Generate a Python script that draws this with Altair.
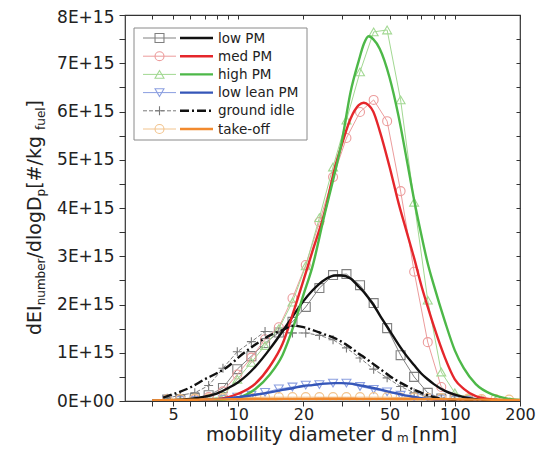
import altair as alt
import pandas as pd

# ---------------- data (values in units of 1E+15 #/kg_fuel) ----------------
d_meas = [4.7, 5.4, 6.3, 7.3, 8.5, 9.9, 11.5, 13.3, 15.4, 17.8, 20.5, 23.7, 27.4,
          31.6, 36.5, 42.2, 48.7, 56.2, 64.9, 75.0, 86.6, 100, 115, 133, 154, 178]
low_pm_meas = [0.03, 0.04, 0.06, 0.12, 0.27, 0.66, 0.93, 1.20, 1.42, 1.64, 1.95, 2.34, 2.61,
               2.63, 2.40, 2.03, 1.51, 0.95, 0.50, 0.17, 0.05, 0.02, 0.01, None, None, None]
med_pm_meas = [0.03, 0.03, 0.04, 0.08, 0.20, 0.55, 0.90, 1.28, 1.53, 2.13, 2.82, 3.71, 4.64,
               5.45, 5.99, 6.24, 5.80, 4.35, 2.68, 1.22, 0.29, 0.06, 0.02, 0.01, None, None]
high_pm_meas = [0.01, 0.01, 0.02, 0.04, 0.10, 0.45, 0.80, 1.15, 1.50, 2.05, 2.80, 3.80, 4.85,
                5.82, 6.82, 7.65, 7.69, 6.24, 4.12, 2.09, 0.60, 0.17, 0.06, 0.02, 0.01, None]
low_lean_meas = [0.005, 0.01, 0.01, 0.02, 0.04, 0.08, 0.12, 0.18, 0.25, 0.29, 0.33, 0.34, 0.37,
                 0.37, 0.30, 0.24, 0.19, 0.12, 0.08, 0.05, 0.03, 0.02, 0.01, None, None, None]
ground_idle_meas = [0.06, 0.12, 0.17, 0.32, 0.68, 1.02, 1.23, 1.44, 1.43, 1.41, 1.41, 1.36, 1.27,
                    1.10, 0.89, 0.66, 0.48, 0.30, 0.17, 0.09, 0.04, 0.02, None, None, None, None]
take_off_meas = [0.03, 0.04, 0.05, 0.05, 0.06, 0.07, 0.07, 0.08, 0.08, 0.08, 0.08, 0.08, 0.08,
                 0.08, 0.08, 0.08, 0.08, 0.07, 0.07, 0.06, 0.06, 0.05, 0.05, 0.04, 0.04, 0.03]

d_fit = [4, 4.5, 5, 6, 7, 8, 9, 10, 12, 14, 16, 18, 20, 22, 25, 28, 30, 33, 36, 38,
         40, 42, 45, 50, 55, 60, 65, 70, 75, 80, 90, 100, 110, 125, 150, 175, 200]
low_pm_fit = [0.004, 0.008, 0.015, 0.042, 0.09, 0.16, 0.27, 0.39, 0.71, 1.08, 1.44, 1.78, 2.07,
              2.29, 2.51, 2.60, 2.60, 2.54, 2.37, 2.26, 2.13, 2.00, 1.78, 1.46, 1.17, 0.93, 0.74,
              0.57, 0.45, 0.35, 0.21, 0.13, 0.08, 0.04, 0.013, 0.005, 0.001]
med_pm_fit = [0, 0, 0.005, 0.01, 0.02, 0.04, 0.08, 0.15, 0.36, 0.72, 1.18, 1.85, 2.5, 3.1, 3.9,
              4.85, 5.3, 5.85, 6.13, 6.18, 6.13, 6.0, 5.6, 4.85, 4.1, 3.5, 2.95, 2.4, 1.95, 1.55,
              0.9, 0.45, 0.25, 0.1, 0.03, 0.01, 0.005]
high_pm_fit = [0, 0, 0, 0.005, 0.01, 0.02, 0.04, 0.07, 0.25, 0.55, 0.95, 1.55, 2.2, 2.78, 3.85,
               4.75, 5.35, 6.4, 7.05, 7.4, 7.56, 7.5, 7.3, 6.7, 5.9, 5.0, 4.15, 3.45, 2.85, 2.4,
               1.65, 1.05, 0.68, 0.35, 0.13, 0.05, 0.02]
low_lean_fit = [0, 0.002, 0.004, 0.01, 0.02, 0.035, 0.055, 0.08, 0.13, 0.18, 0.23, 0.27, 0.31,
                0.33, 0.36, 0.37, 0.37, 0.36, 0.33, 0.31, 0.29, 0.27, 0.24, 0.19, 0.15, 0.11,
                0.085, 0.06, 0.045, 0.03, 0.016, 0.008, 0.004, 0.002, 0, 0, 0]
ground_idle_fit = [None, 0.07, 0.14, 0.28, 0.45, 0.58, 0.72, 0.9, 1.17, 1.36, 1.47, 1.56, 1.53,
                   1.47, 1.38, 1.30, 1.23, 1.11, 0.98, 0.91, 0.84, 0.77, 0.67, 0.52, 0.40, 0.31,
                   0.23, 0.17, 0.12, 0.08, 0.04, 0.02, 0.01, 0.005, 0, 0, 0]
take_off_fit = [0.01, 0.015, 0.02, 0.025, 0.03, 0.033, 0.035, 0.037, 0.04, 0.042, 0.043, 0.044,
                0.045, 0.045, 0.046, 0.046, 0.046, 0.046, 0.045, 0.045, 0.045, 0.044, 0.044,
                0.043, 0.042, 0.041, 0.04, 0.039, 0.038, 0.037, 0.035, 0.033, 0.031, 0.029,
                0.026, 0.023, 0.02]

series_names = ["low PM", "med PM", "high PM", "low lean PM", "ground idle", "take-off"]
x_tick_values = [4, 5, 6, 7, 8, 9, 10, 20, 30, 40, 50, 60, 70, 80, 90, 100, 200]
x_label_values = [5, 10, 20, 50, 100, 200]
y_tick_values = [i * 0.5 for i in range(17)]

# ---------------- styles ----------------
FONT = "DejaVu Sans"
CROSS = "M-1,0L1,0M0,-1L0,1"
styles = {
    "low PM":      dict(mc="#808080", shape="square", fc="#111111", fdash=None, ddash=None),
    "med PM":      dict(mc="#ec9c9c", shape="circle", fc="#e5262b", fdash=None, ddash=None),
    "high PM":     dict(mc="#a2d892", shape="triangle-up", fc="#4db848", fdash=None, ddash=None),
    "low lean PM": dict(mc="#8a9ee0", shape="triangle-down", fc="#3556b8", fdash=None, ddash=None),
    "ground idle": dict(mc="#7a7a7a", shape=CROSS, fc="#111111", fdash=[9, 3, 2, 3], ddash=[4, 2]),
    "take-off":    dict(mc="#f2c48e", shape="circle", fc="#f28a2e", fdash=None, ddash=None),
}
meas = dict(zip(series_names, [low_pm_meas, med_pm_meas, high_pm_meas, low_lean_meas,
                               ground_idle_meas, take_off_meas]))
fits = dict(zip(series_names, [low_pm_fit, med_pm_fit, high_pm_fit, low_lean_fit,
                               ground_idle_fit, take_off_fit]))

X_SCALE = alt.Scale(type="log", domain=[3, 200])
Y_SCALE = alt.Scale(domain=[0, 8])


def df_of(xs, ys):
    return pd.DataFrame({"d": xs, "v": ys}).dropna()


def xy(chart, xaxis=None, yaxis=None):
    return chart.encode(
        x=alt.X("d:Q", scale=X_SCALE, axis=xaxis),
        y=alt.Y("v:Q", scale=Y_SCALE, axis=yaxis),
    )


layers = []

# axes (invisible carrier layers)
axis_df = df_of(d_fit, low_pm_fit)
bottom_axis = alt.Axis(
    orient="bottom", values=x_tick_values, title=None, domain=False, grid=False,
    labelExpr="indexof(%s, datum.value) >= 0 ? format(datum.value, 'd') : ''" % x_label_values,
    tickSize=5, labelFlush=False, labelOverlap=False, labelPadding=0, labelFontSize=16,
)
left_axis = alt.Axis(
    orient="left", values=y_tick_values, title=None, domain=False, grid=False,
    labelExpr="datum.value % 1 == 0 ? (datum.value == 0 ? '0E+00' : format(datum.value, 'd') + 'E+15') : ''",
    tickSize=6, labelFlush=False, labelOverlap=False, labelPadding=5, labelFontSize=17,
    labelOffset={"condition": {"test": "datum.value == 8", "value": 2}, "value": 0},
)
top_axis = alt.Axis(orient="top", values=x_tick_values, title=None, domain=False, grid=False,
                    labels=False, tickSize=4, offset=-4)
right_axis = alt.Axis(orient="right", values=y_tick_values, title=None, domain=False, grid=False,
                      labels=False, tickSize=4, offset=-4)
layers.append(xy(alt.Chart(axis_df).mark_point(opacity=0), bottom_axis, left_axis))
layers.append(xy(alt.Chart(axis_df).mark_point(opacity=0), top_axis, right_axis))

# measured data: thin lines + hollow markers
for name in series_names:
    st = styles[name]
    df = df_of(d_meas, meas[name])
    line_kw = dict(color=st["mc"], strokeWidth=1, clip=True)
    if st["ddash"]:
        line_kw["strokeDash"] = st["ddash"]
    layers.append(xy(alt.Chart(df).mark_line(**line_kw)))
    layers.append(xy(alt.Chart(df).mark_point(shape=st["shape"], size=80, filled=False,
                                              color=st["mc"], strokeWidth=1.1, opacity=1,
                                              clip=True)))

# fitted curves: thick lines
for name in series_names:
    st = styles[name]
    df = df_of(d_fit, fits[name])
    kw = dict(color=st["fc"], strokeWidth=2.4, interpolate="monotone", clip=True)
    if st["fdash"]:
        kw["strokeDash"] = st["fdash"]
    layers.append(xy(alt.Chart(df).mark_line(**kw)))

# ---------------- legend (drawn inside the plot) ----------------
one = pd.DataFrame({"k": [0]})
layers.append(alt.Chart(one).mark_rect(fill="white", stroke="#8a8a8a", strokeWidth=1).encode(
    x=alt.value(9), x2=alt.value(182), y=alt.value(13), y2=alt.value(125)))
for i, name in enumerate(series_names):
    st = styles[name]
    ry = 23 + 18.2 * i
    kw = dict(color=st["mc"], strokeWidth=1)
    if st["ddash"]:
        kw["strokeDash"] = st["ddash"]
    layers.append(alt.Chart(one).mark_rule(**kw).encode(
        x=alt.value(18), x2=alt.value(51), y=alt.value(ry)))
    layers.append(alt.Chart(one).mark_point(shape=st["shape"], size=80, filled=False,
                                            color=st["mc"], strokeWidth=1.1, opacity=1).encode(
        x=alt.value(34.5), y=alt.value(ry)))
    kw = dict(color=st["fc"], strokeWidth=2.4)
    if st["fdash"]:
        kw["strokeDash"] = st["fdash"]
    layers.append(alt.Chart(one).mark_rule(**kw).encode(
        x=alt.value(55), x2=alt.value(88), y=alt.value(ry)))
    layers.append(alt.Chart(one).mark_text(text=name, font=FONT, fontSize=13.5, align="left",
                                           baseline="middle", color="#222").encode(
        x=alt.value(93), y=alt.value(ry + 0.5)))

# ---------------- axis titles with subscripts ----------------
W = {"a": .613, "b": .635, "d": .635, "e": .615, "f": .352, "g": .635, "i": .278, "k": .579,
     "l": .278, "m": .974, "n": .634, "o": .612, "p": .635, "r": .411, "t": .392, "u": .634,
     "y": .592, " ": .318, "[": .39, "]": .39, "/": .337, "#": .838, "D": .770, "E": .632,
     "I": .295}


def tw(s, size):
    return sum(W.get(c, .62) for c in s) * size


MAIN, SUB = 19, 12
# y title (rotated, reading bottom-to-top)
ypieces = [("dEI", MAIN, 0), ("number", SUB, 4), ("/dlogD", MAIN, 0), ("p", SUB, 4),
           (" [#/kg", MAIN, 0), ("fuel", SUB, 4), ("]", MAIN, 0)]
pos = 320.0
for txt, size, shift in ypieces:
    layers.append(alt.Chart(one).mark_text(text=txt, font=FONT, fontSize=size, angle=270,
                                           align="left", baseline="alphabetic", color="#222").encode(
        x=alt.value(-84 + shift), y=alt.value(pos)))
    pos -= tw(txt, size)

# x title
xpieces = [("mobility diameter d", MAIN, 0, 4), ("m", SUB, 1, 3), (" [nm]", MAIN, 0, 0)]
pos = 81.0
for txt, size, shift, gap in xpieces:
    layers.append(alt.Chart(one).mark_text(text=txt, font=FONT, fontSize=size,
                                           align="left", baseline="alphabetic", color="#222").encode(
        x=alt.value(pos), y=alt.value(426 + shift)))
    pos += tw(txt, size) + gap

chart = alt.layer(*layers).properties(
    width=395, height=386,
    autosize=alt.AutoSizeParams(type="none"),
    padding={"left": 117, "top": 7, "right": 16, "bottom": 44},
).configure_view(stroke="#333333", strokeWidth=1.2).configure_axis(
    labelFont=FONT, labelFontSize=17, labelColor="#222222", tickColor="#333333", tickWidth=1,
)

chart.save("out.html", embed_options={"renderer": "svg", "actions": False})
